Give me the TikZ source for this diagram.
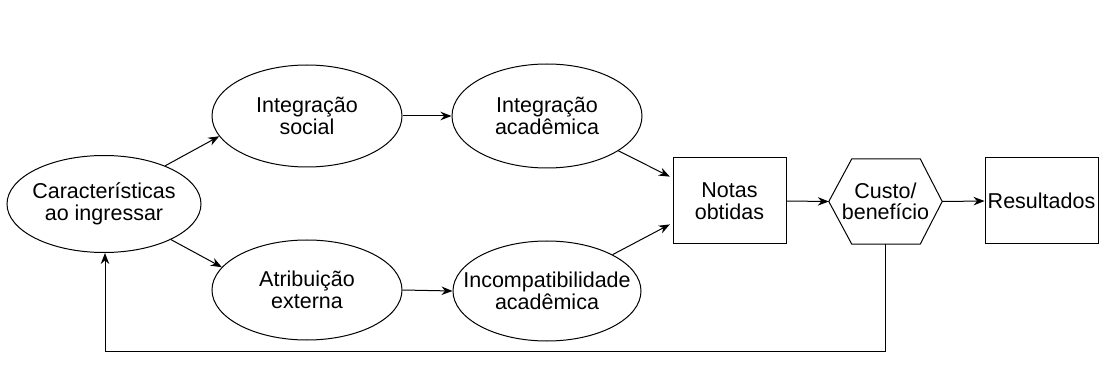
\documentclass[tikz,border=0pt]{standalone}
\usepackage{fontspec}
\setmainfont{Liberation Sans}
\usetikzlibrary{shapes.geometric,arrows.meta}
\begin{document}
\begin{tikzpicture}[x=1pt,y=-1pt,
  every node/.style={font=\fontsize{21.5}{21.5}\selectfont, align=center, inner sep=0pt},
  ell/.style={draw, ellipse, line width=1pt},
  boxn/.style={draw, rectangle, line width=1pt, minimum width=113pt, minimum height=86pt},
  conn/.style={line width=1pt, -{Stealth[length=11pt,width=8.5pt]}}]
\useasboundingbox[fill=white] (0,0) rectangle (1109,374);
% ellipses
\node[ell, minimum width=194pt, minimum height=97pt] (car) at (104,204) {};
\node at (car) {Características\\ao ingressar};
\node[ell, minimum width=190pt, minimum height=102pt] (soc) at (307,116) {};
\node at (soc) {Integração\\social};
\node[ell, minimum width=190pt, minimum height=104pt] (acad) at (547,116) {};
\node at (acad) {Integração\\acadêmica};
\node[ell, minimum width=190pt, minimum height=100pt] (atr) at (307,290) {};
\node at (atr) {Atribuição\\externa};
\node[ell, minimum width=188pt, minimum height=100pt] (inc) at (547,291) {};
\node at (inc) {Incompatibilidade\\acadêmica};
% boxes
\node[boxn] (notas) at (729.5,201) {Notas\\obtidas};
\node[minimum width=113pt, minimum height=85pt] (hex) at (885.5,201.5) {Custo/\\benefício};
\draw[line width=1pt] (hex.west) -- ([xshift=23pt]hex.north west) -- ([xshift=-22pt]hex.north east)
  -- (hex.east) -- ([xshift=-22pt]hex.south east) -- ([xshift=23pt]hex.south west) -- cycle;
\node[boxn] (res) at (1041.5,201) {Resultados};
% connectors
\draw[conn] (car.32) -- (soc.193);
\draw[conn] (car.-28) -- (atr.165);
\draw[conn] (soc.east) -- (acad.west);
\draw[conn] (atr.east) -- (inc.west);
\draw[conn, shorten >=3pt] (acad.-26) -- ([yshift=23pt]notas.west);
\draw[conn, shorten >=3pt] (inc.29) -- ([yshift=-22pt]notas.west);
\draw[conn] (notas.east) -- (hex.west);
\draw[conn] (hex.east) -- (res.west);
\coordinate (fbL) at (105,351);
\draw[conn] (hex.south) |- (fbL) -- (car.south -| fbL);
\end{tikzpicture}
\end{document}
